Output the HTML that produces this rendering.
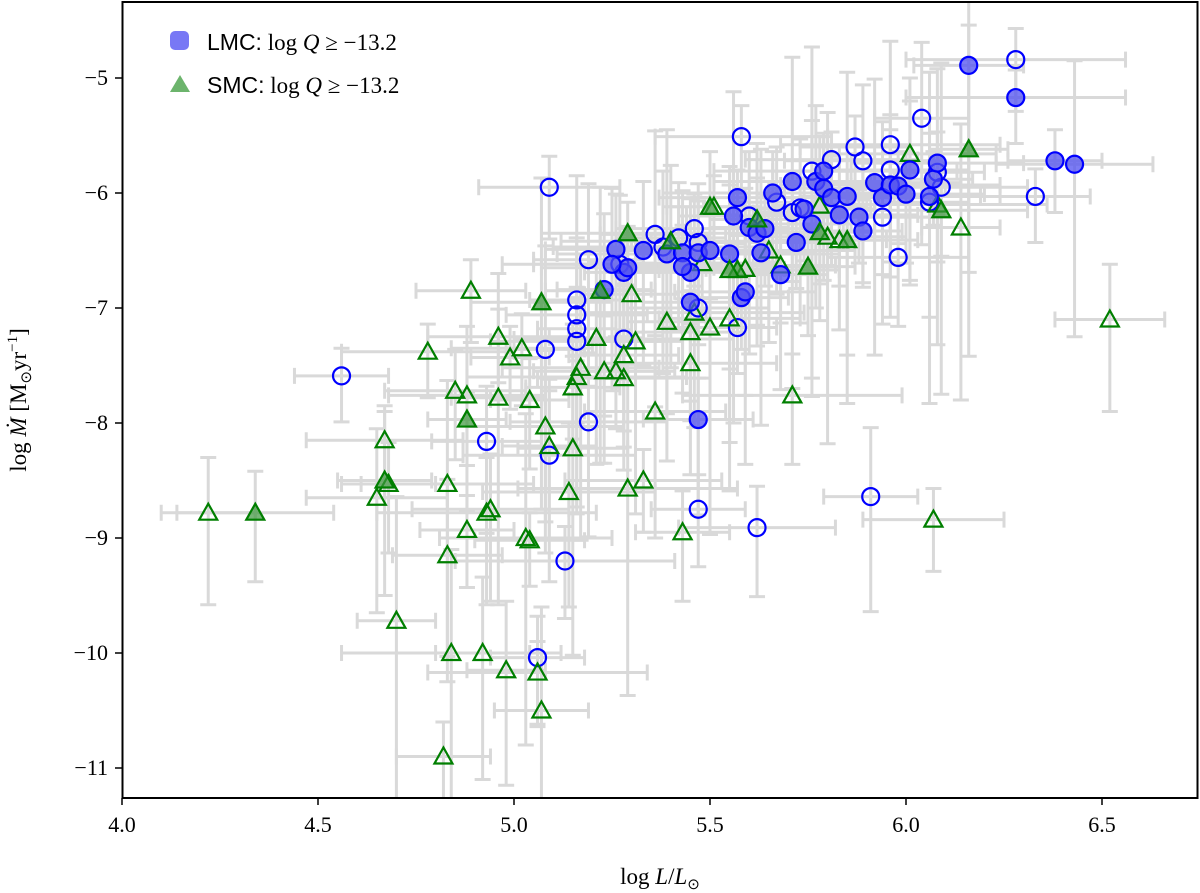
<!DOCTYPE html>
<html><head><meta charset="utf-8"><style>
body{margin:0;background:#fff;}
svg{display:block;font-family:"Liberation Serif",serif;}
</style></head><body>
<svg id="chart" width="1200" height="893" viewBox="0 0 1200 893">
<defs><clipPath id="plotclip"><rect x="123" y="3" width="1074" height="794"/></clipPath></defs>
<g id="errs" clip-path="url(#plotclip)"></g>
<g id="marks" clip-path="url(#plotclip)"></g>
<rect x="122.5" y="2" width="1075" height="796" fill="none" stroke="#000" stroke-width="2"/>
<g id="axes"></g>
<g>
<rect x="170" y="31" width="19" height="19" rx="5" fill="#7878f5"/>
<text x="207" y="50" font-size="23"><tspan font-family="Liberation Sans, sans-serif">LMC:</tspan> log <tspan font-style="italic">Q</tspan> ≥ −13.2</text>
<polygon points="170,92 180,75 190,92" fill="#6cb46c"/>
<text x="207" y="93" font-size="23"><tspan font-family="Liberation Sans, sans-serif">SMC:</tspan> log <tspan font-style="italic">Q</tspan> ≥ −13.2</text>
</g>
<text x="660" y="884" font-size="23" text-anchor="middle">log <tspan font-style="italic">L</tspan>/<tspan font-style="italic">L</tspan><tspan font-size="15" dy="5">⊙</tspan></text>
<text transform="translate(26,400) rotate(-90)" font-size="23" text-anchor="middle">log <tspan font-style="italic">Ṁ</tspan> [M<tspan font-size="15" dy="5">⊙</tspan><tspan dy="-5">yr</tspan><tspan font-size="15" dy="-9">−1</tspan><tspan dy="9">]</tspan></text>
</svg>
<script>
const xTicks=[4.0,4.5,5.0,5.5,6.0,6.5];
const yTicks=[-5,-6,-7,-8,-9,-10,-11];
const lmcOpen=[[4.56,-7.59],[5.09,-5.95],[5.08,-7.36],[5.09,-8.28],[4.93,-8.16],[5.13,-9.2],[5.06,-10.04],[5.19,-7.99],[5.16,-6.93],[5.16,-7.06],[5.16,-7.18],[5.16,-7.29],[5.19,-6.58],[5.28,-7.27],[5.47,-8.75],[5.62,-8.91],[5.91,-8.64],[5.47,-7.0],[5.57,-7.17],[5.58,-5.51],[5.36,-6.36],[5.38,-6.47],[5.42,-6.39],[5.46,-6.31],[5.47,-6.43],[5.73,-6.13],[5.76,-5.81],[5.81,-5.71],[5.87,-5.6],[5.96,-5.58],[6.04,-5.35],[5.96,-5.8],[5.94,-6.21],[5.98,-6.56],[6.06,-6.08],[6.09,-5.95],[6.33,-6.03],[6.28,-4.84],[6.08,-5.82],[5.89,-5.72],[5.67,-6.08],[5.6,-6.2],[5.71,-6.17],[5.27,-6.62]];
const lmcFilled=[[6.16,-4.89],[6.28,-5.17],[6.38,-5.72],[6.43,-5.75],[5.23,-6.84],[5.26,-6.49],[5.28,-6.69],[5.29,-6.65],[5.33,-6.5],[5.39,-6.53],[5.43,-6.52],[5.45,-6.69],[5.45,-6.95],[5.43,-6.64],[5.47,-6.52],[5.5,-6.5],[5.47,-7.97],[5.55,-6.53],[5.56,-6.2],[5.57,-6.04],[5.58,-6.91],[5.59,-6.86],[5.6,-6.3],[5.62,-6.35],[5.64,-6.31],[5.66,-6.0],[5.68,-6.71],[5.71,-5.9],[5.72,-6.43],[5.74,-6.14],[5.76,-6.27],[5.77,-5.9],[5.79,-5.96],[5.79,-5.81],[5.81,-6.04],[5.83,-6.19],[5.85,-6.03],[5.88,-6.21],[5.89,-6.33],[5.92,-5.91],[5.94,-6.04],[5.96,-5.93],[5.98,-5.94],[6.0,-6.01],[6.01,-5.8],[6.06,-6.03],[6.07,-5.88],[6.08,-5.74],[5.63,-6.52],[5.25,-6.62]];
const smcOpen=[[4.22,-8.78],[4.67,-8.15],[4.68,-8.53],[4.65,-8.65],[4.7,-9.72],[4.78,-7.38],[4.89,-6.85],[4.84,-10.0],[4.92,-10.0],[4.94,-8.75],[4.88,-8.93],[4.85,-7.72],[4.98,-10.15],[5.03,-9.0],[5.04,-9.02],[5.06,-10.17],[5.07,-10.5],[5.08,-8.03],[5.09,-8.2],[5.02,-7.35],[5.04,-7.8],[5.14,-8.6],[5.15,-8.22],[5.16,-7.6],[5.15,-7.69],[5.17,-7.52],[5.21,-7.26],[5.23,-7.55],[5.26,-7.55],[5.28,-7.61],[5.28,-7.41],[5.29,-8.57],[5.3,-6.88],[5.33,-8.5],[5.31,-7.29],[5.36,-7.9],[5.39,-7.12],[5.45,-7.48],[5.45,-7.21],[5.46,-7.04],[5.5,-7.17],[5.48,-6.61],[5.51,-6.12],[5.55,-7.09],[5.59,-6.66],[5.65,-6.5],[5.68,-6.63],[5.71,-7.76],[5.78,-6.11],[5.8,-6.38],[5.83,-6.41],[6.07,-8.84],[6.14,-6.3],[6.01,-5.66],[6.52,-7.1],[6.08,-6.1],[5.43,-8.95],[4.88,-7.76],[4.96,-7.78],[4.96,-7.25],[4.99,-7.43],[4.83,-8.53],[4.83,-9.15],[4.93,-8.78],[4.82,-10.9]];
const smcFilled=[[4.34,-8.78],[4.67,-8.5],[5.07,-6.95],[4.88,-7.97],[5.29,-6.35],[5.22,-6.85],[5.4,-6.42],[5.5,-6.12],[5.57,-6.67],[5.75,-6.64],[5.85,-6.41],[6.16,-5.62],[6.09,-6.15],[5.78,-6.34],[5.55,-6.67],[5.62,-6.23]];
const xErrs=[0.12,0.18,0.1,0.22,0.14,0.28,0.12,0.2];
const yErrs=[0.5,1.0,0.4,1.5,0.8,0.6,1.8,0.45,1.1];

const NS="http://www.w3.org/2000/svg";
function X(v){return 122+(v-4)*392;}
function Y(v){return 78+(-5-v)*115;}
function mk(tag,attrs,parent){const e=document.createElementNS(NS,tag);for(const k in attrs)e.setAttribute(k,attrs[k]);parent.appendChild(e);return e;}
const axes=document.getElementById('axes');
xTicks.forEach(t=>{
  const l=mk('line',{x1:X(t),x2:X(t),y1:798,y2:805,stroke:'#000','stroke-width':1.5},axes);
  
  
  const tx=mk('text',{x:X(t),y:832,'font-size':22,'text-anchor':'middle'},axes);
  tx.textContent=t.toFixed(1);
  
  
});
yTicks.forEach(t=>{
  const l=mk('line',{x1:115,x2:122,y1:Y(t),y2:Y(t),stroke:'#000','stroke-width':1.5},axes);
  
  
  const tx=mk('text',{x:108,y:Y(t)+7,'font-size':22,'text-anchor':'end'},axes);
  tx.textContent='−'+Math.abs(t);
  
  
});
const errs=document.getElementById('errs'),marks=document.getElementById('marks');
let k=0;
function drawErr(p){
  const xe=xErrs[k%xErrs.length],ye=yErrs[(k*5+2)%yErrs.length];k++;
  const x=X(p[0]),y=Y(p[1]),x1=X(p[0]-xe),x2=X(p[0]+xe),y1=Y(p[1]+ye*0.6),y2=Y(p[1]-ye);
  const g=mk('path',{d:`M${x1},${y}H${x2}M${x},${y1}V${y2}M${x1},${y-8}v16M${x2},${y-8}v16M${x-8},${y1}h16M${x-8},${y2}h16`,stroke:'#d9d9d9','stroke-width':3,fill:'none'},errs);
  
  
}
[...lmcOpen,...lmcFilled,...smcOpen,...smcFilled].forEach(drawErr);
lmcOpen.forEach(p=>{
  const c=mk('circle',{cx:X(p[0]),cy:Y(p[1]),r:8.5,fill:'none',stroke:'#0000ff','stroke-width':2.2},marks);
  
  
});
smcOpen.forEach(p=>{
  const x=X(p[0]),y=Y(p[1]);
  const t=mk('polygon',{points:`${x-9},${y+7} ${x},${y-9} ${x+9},${y+7}`,fill:'none',stroke:'#007f00','stroke-width':2.2},marks);
  
  
});
lmcFilled.forEach(p=>{
  const c=mk('circle',{cx:X(p[0]),cy:Y(p[1]),r:8.5,fill:'rgba(80,80,240,0.75)',stroke:'#0000ff','stroke-width':2.2},marks);
  
  
});
smcFilled.forEach(p=>{
  const x=X(p[0]),y=Y(p[1]);
  const t=mk('polygon',{points:`${x-9},${y+7} ${x},${y-9} ${x+9},${y+7}`,fill:'rgba(60,150,60,0.7)',stroke:'#007f00','stroke-width':2.2},marks);
  
  
});
</script>
</body></html>
